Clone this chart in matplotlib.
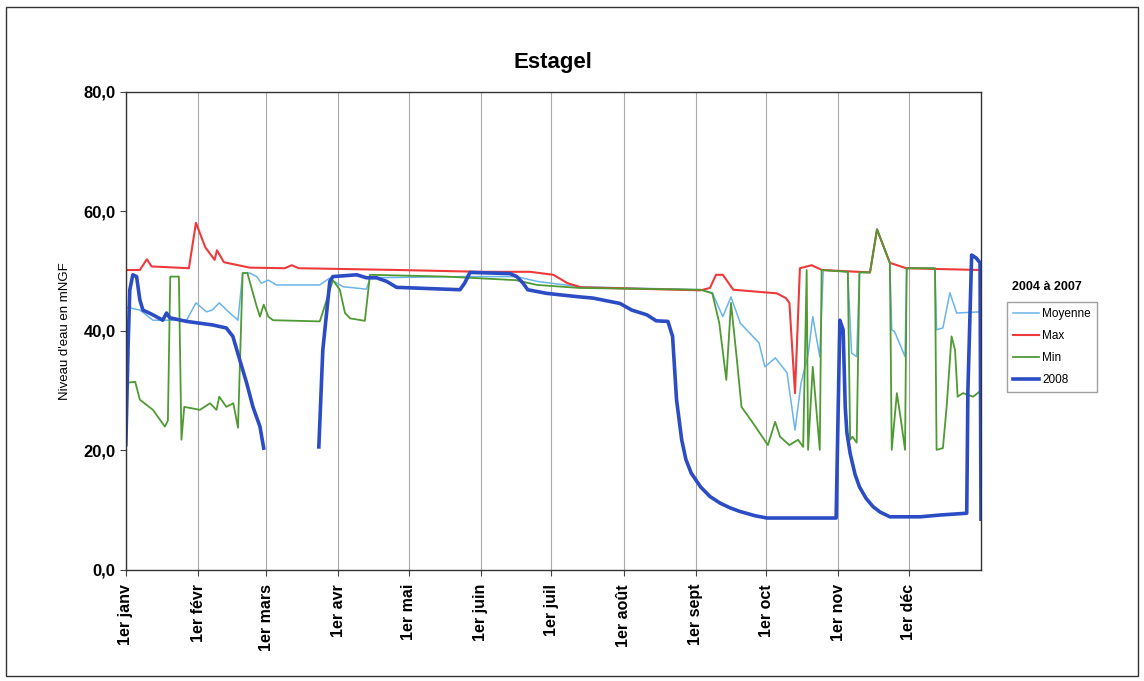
import numpy as np
import matplotlib
matplotlib.use("Agg")
import matplotlib.pyplot as plt
from matplotlib.patches import Rectangle

plt.rcParams['font.family'] = ['Liberation Sans', 'DejaVu Sans']

# x = day of year (0 = 1er janv) (mNGF)
months = ["1er janv", "1er févr", "1er mars", "1er avr", "1er mai", "1er juin",
          "1er juil", "1er août", "1er sept", "1er oct", "1er nov", "1er déc"]
month_start = [0, 31, 60, 91, 121, 152, 182, 213, 244, 274, 305, 335]

max_day = [0, 6, 9, 11, 27, 30, 34, 38, 39, 42, 53, 68, 71, 74, 117, 152, 173, 183,
           189, 195, 246, 250, 252.6, 255.5, 260, 278.6, 282.5, 284, 286.4, 288.5,
           293.5, 298, 318.5, 321.5, 327, 334, 365.6]
max_val = [50.2, 50.2, 52.0, 50.8, 50.5, 58.1, 54.0, 51.9, 53.5, 51.5, 50.6, 50.5, 51.0,
           50.5, 50.2, 49.9, 49.9, 49.4, 48.0, 47.3, 46.8, 47.2, 49.4, 49.4, 46.9, 46.3,
           45.5, 44.7, 29.6, 50.5, 51.0, 50.2, 49.8, 57.0, 51.4, 50.5, 50.2]

moy_day = [0, 6, 11.6, 26, 30, 34.5, 37, 40, 44.5, 48, 50, 53, 56, 58, 61, 64.5, 83,
           87, 93, 103, 104.5, 144, 167, 176, 194, 246, 251, 255.5, 259, 263, 271,
           273.5, 278, 283, 286.4, 289, 292, 294, 297, 298.5, 309, 310.6, 312.8, 314,
           318.5, 321.5, 327, 327.8, 329, 330.5, 333.5, 334.2, 346.3, 347, 349.7,
           352.7, 355.6, 365.6]
moy_val = [44.0, 43.5, 41.8, 41.8, 44.7, 43.2, 43.5, 44.7, 43.0, 41.8, 49.7, 49.7, 49.1,
           48.0, 48.5, 47.7, 47.7, 48.8, 47.4, 47.0, 48.9, 49.1, 49.1, 48.3, 47.4, 46.9,
           46.4, 42.4, 45.7, 41.3, 38.0, 34.0, 35.5, 33.0, 23.4, 31.3, 36.0, 42.4, 35.7,
           50.2, 49.9, 36.3, 35.7, 49.8, 49.8, 57.0, 51.4, 40.2, 39.9, 38.5, 35.7, 50.5,
           50.5, 40.2, 40.5, 46.4, 43.0, 43.2]

min_day = [0, 4, 6, 11.6, 16.7, 18, 19, 22.7, 23.8, 25, 31.7, 36, 38.8, 40, 43, 46, 48,
           50, 52, 56, 57.4, 59, 61, 63, 83, 85, 88.6, 91.6, 93.8, 96, 102.3, 104.5,
           137, 167, 176, 194, 246, 251, 254, 257, 259, 261.4, 263.5, 268.4, 274.8,
           277.9, 280, 284, 287.7, 289.9, 291.4, 292, 294, 297, 297.8, 309, 310, 311,
           312.8, 314, 318.5, 321.5, 327, 327.8, 330, 331.4, 333.5, 334.2, 346.3, 347,
           349.7, 351.3, 353.4, 354.9, 356, 358.3, 362.6, 365.6]
min_val = [31.3, 31.5, 28.5, 26.8, 24.0, 25.0, 49.1, 49.1, 21.8, 27.3, 26.8, 27.9, 26.8,
           29.0, 27.3, 27.9, 23.8, 49.7, 49.7, 44.1, 42.4, 44.4, 42.4, 41.8, 41.6, 44.0,
           48.5, 46.9, 43.0, 42.1, 41.7, 49.4, 49.1, 48.5, 47.7, 47.2, 46.9, 46.3, 41.3,
           31.8, 44.7, 35.7, 27.3, 24.6, 20.9, 24.8, 22.3, 20.9, 21.8, 20.6, 50.2, 20.1,
           34.0, 20.1, 50.2, 49.9, 21.8, 22.3, 21.3, 49.8, 49.8, 57.0, 51.4, 20.1, 29.6,
           26.0, 20.1, 50.5, 50.5, 20.1, 20.4, 27.3, 39.1, 36.8, 29.0, 29.6, 29.0, 29.9]

y08_day = [0, 1, 1.7, 3, 4.6, 6, 7.3, 11.6, 15.8, 17.4, 18.8, 26, 37.2, 43, 45.8, 48.8,
           51.7, 54.4, 57.4, 59, 70, 82.6, 84.3, 87.3, 88.6, 98.8, 103, 107.3, 111.6,
           115.9, 143, 145, 147.3, 164.4, 167.3, 170, 172, 180, 187, 194.3, 200, 211.5,
           216.5, 223, 227, 232, 234, 235.7, 237.9, 239.7, 242, 246, 250, 254.3, 258.6,
           262.8, 269.1, 274.3, 304, 305.6, 307, 307.9, 308.6, 310, 312.1, 314, 316.8,
           319.8, 322.8, 327, 340, 348.5, 359.9, 360.4, 362, 364, 365.6, 366]
y08_val = [21.0, 38.0, 46.9, 49.4, 49.1, 45.2, 43.5, 42.7, 41.8, 43.0, 42.2, 41.6, 41.0,
           40.5, 39.1, 35.1, 31.3, 27.3, 24.0, 20.4, np.nan, 20.6, 36.8, 48.3, 49.1, 49.4,
           48.9, 48.9, 48.3, 47.3, 46.9, 48.0, 49.8, 49.6, 49.1, 48.0, 46.9, 46.3, 46.0,
           45.7, 45.5, 44.6, 43.5, 42.7, 41.7, 41.6, 39.1, 28.5, 21.8, 18.5, 16.2, 13.9,
           12.3, 11.2, 10.4, 9.8, 9.1, 8.7, 8.7, 41.8, 40.2, 27.3, 23.0, 19.5, 16.0, 13.9,
           12.0, 10.6, 9.7, 8.9, 8.9, 9.2, 9.5, 30.0, 52.7, 52.2, 51.4, 8.5]

fig = plt.figure(figsize=(11.44, 6.81), dpi=100)
ax = fig.add_axes([0.110, 0.163, 0.7475, 0.702])

ax.plot(moy_day, moy_val, color='#6ab4ea', lw=1.1, label='Moyenne')
ax.plot(max_day, max_val, color='#ee3a3a', lw=1.5, label='Max')
ax.plot(min_day, min_val, color='#4f9a33', lw=1.3, label='Min')
ax.plot(y08_day, y08_val, color='#2b4cc4', lw=2.6, label='2008')

ax.set_xlim(0, 366)
ax.set_ylim(0, 80)
ax.set_xticks(month_start)
ax.set_xticklabels(months, rotation=90, fontsize=11.5, fontweight='bold')
ax.set_yticks([0, 20, 40, 60, 80])
ax.set_yticklabels([f"{v:.1f}".replace('.', ',') for v in [0, 20, 40, 60, 80]],
                   fontsize=12, fontweight='bold')
ax.tick_params(axis='both', length=4, color='#444')
ax.tick_params(axis='x', pad=6)
ax.xaxis.grid(True, color='#a8a8a8', lw=0.8)
ax.set_axisbelow(True)
for s in ax.spines.values():
    s.set_color('#333')
    s.set_linewidth(1.0)

ax.set_ylabel("Niveau d'eau en mNGF", fontsize=9.5, labelpad=9)
fig.text(0.4835, 0.9075, "Estagel", ha='center', va='center', fontsize=16, fontweight='bold')

# legend, with its title as a separate text like in Excel
fig.text(0.9155, 0.579, "2004 à 2007", ha='center', va='center', fontsize=9, fontweight='bold')
leg = fig.legend(loc='upper left', bbox_to_anchor=(0.880, 0.5565), fontsize=8.5,
                 fancybox=False, edgecolor='#888', handlelength=2.2, handletextpad=0.3,
                 borderaxespad=0, labelspacing=0.85, borderpad=0.5)

# outer chart border
fig.patches.append(Rectangle((0.005, 0.008), 0.99, 0.982, transform=fig.transFigure,
                             fill=False, ec='#333', lw=1.0))

fig.savefig("out.png", dpi=100)
